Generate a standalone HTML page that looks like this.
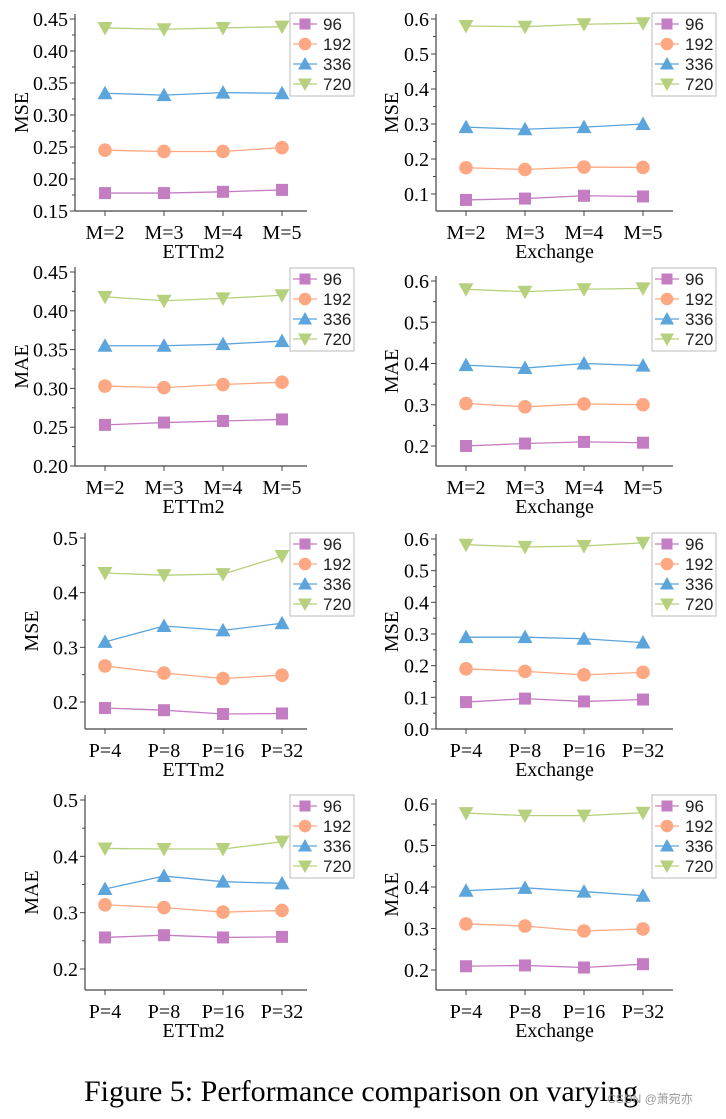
<!DOCTYPE html>
<html><head><meta charset="utf-8"><style>
body{margin:0;background:#fff;width:726px;height:1119px;overflow:hidden}
svg{display:block;font-family:"Liberation Serif",serif}
</style></head><body>
<svg id="fig" width="726" height="1119">
<text x="361" y="1101" font-size="30" text-anchor="middle" fill="#000">Figure 5: Performance comparison on varying</text>
<text x="650" y="1103" font-size="12" text-anchor="middle" fill="#999" font-family="Liberation Sans, Noto Sans CJK SC, sans-serif">CSDN @萧宛亦</text>
</svg>
<script>
const seriesNames=["96","192","336","720"];
const catsM=["M=2","M=3","M=4","M=5"];
const catsP=["P=4","P=8","P=16","P=32"];
const r1l=[[0.178,0.178,0.180,0.183],[0.245,0.243,0.243,0.249],[0.334,0.331,0.335,0.334],[0.436,0.434,0.436,0.438]];
const r1r=[[0.083,0.087,0.095,0.093],[0.175,0.170,0.177,0.176],[0.291,0.285,0.291,0.300],[0.580,0.578,0.585,0.588]];
const r2l=[[0.253,0.256,0.258,0.260],[0.303,0.301,0.305,0.308],[0.355,0.355,0.357,0.361],[0.418,0.413,0.416,0.420]];
const r2r=[[0.200,0.206,0.210,0.208],[0.303,0.295,0.302,0.300],[0.396,0.389,0.400,0.395],[0.580,0.574,0.580,0.582]];
const r3l=[[0.189,0.185,0.178,0.179],[0.266,0.253,0.243,0.249],[0.310,0.339,0.331,0.344],[0.436,0.432,0.434,0.467]];
const r3r=[[0.085,0.096,0.087,0.093],[0.190,0.182,0.171,0.179],[0.290,0.290,0.285,0.273],[0.582,0.575,0.578,0.588]];
const r4l=[[0.256,0.260,0.256,0.257],[0.314,0.309,0.301,0.304],[0.342,0.365,0.355,0.352],[0.414,0.413,0.413,0.426]];
const r4r=[[0.209,0.211,0.206,0.214],[0.311,0.306,0.294,0.299],[0.391,0.398,0.389,0.379],[0.578,0.572,0.572,0.579]];
const ticks1l=[0.15,0.20,0.25,0.30,0.35,0.40,0.45];
const ticksEx6=[0.1,0.2,0.3,0.4,0.5,0.6];
const ticks2l=[0.20,0.25,0.30,0.35,0.40,0.45];
const ticks2r=[0.2,0.3,0.4,0.5,0.6];
const ticks3l=[0.2,0.3,0.4,0.5];
const ticks3r=[0.0,0.1,0.2,0.3,0.4,0.5,0.6];
const colors=["#c47cc2","#fda882","#5ba4dc","#b7d07e"];
const NS="http://www.w3.org/2000/svg";
const svg=document.getElementById('fig');
function mk(t,a,p){const e=document.createElementNS(NS,t);for(const k in a)e.setAttribute(k,a[k]);(p||svg).appendChild(e);return e;}
function marker(g,k,x,y,s){
  const c=colors[k];let e;
  if(k===0)e=mk('rect',{x:x-s,y:y-s,width:2*s,height:2*s,fill:c},g);
  else if(k===1)e=mk('circle',{cx:x,cy:y,r:s+0.8,fill:c},g);
  else if(k===2)e=mk('polygon',{points:`${x},${y-s-1.5} ${x-s-1.5},${y+s} ${x+s+1.5},${y+s}`,fill:c},g);
  else e=mk('polygon',{points:`${x},${y+s+1.5} ${x-s-1.5},${y-s} ${x+s+1.5},${y-s}`,fill:c},g);
  return e;
}
function panel(P){
  const g=mk('g',{});
  
  
  const y=v=>P.yb+(v-P.v0)*(P.yt-P.yb)/(P.v1-P.v0);
  const x=i=>P.cx0+i*P.dx;
  const step=P.ticks[1]-P.ticks[0];
  const ax=mk('line',{x1:P.ax,y1:P.top,x2:P.ax,y2:P.bot,stroke:'#444','stroke-width':1.2},g);
  
  
  const bx=mk('line',{x1:P.ax,y1:P.bot,x2:P.axr,y2:P.bot,stroke:'#444','stroke-width':1.2},g);
  
  
  P.ticks.forEach(t=>{
    const yy=y(t);
    mk('line',{x1:P.ax-5,y1:yy,x2:P.ax,y2:yy,stroke:'#444'},g);
    const m=yy-(y(t)-y(t+step))/2;
    if(m>P.top-1)mk('line',{x1:P.ax-3,y1:m,x2:P.ax,y2:m,stroke:'#444'},g);
    const tl=mk('text',{x:P.ax-7,y:yy+7,'font-size':20,'text-anchor':'end'},g);
    tl.textContent=t.toFixed(P.dec);
    
    
  });
  const mb=y(P.ticks[0])+(y(P.ticks[0])-y(P.ticks[0]+step))/2;
  if(mb<P.bot-1)mk('line',{x1:P.ax-3,y1:mb,x2:P.ax,y2:mb,stroke:'#444'},g);
  P.cats.forEach((c,i)=>{
    mk('line',{x1:x(i),y1:P.bot,x2:x(i),y2:P.bot+5,stroke:'#444'},g);
    const tl=mk('text',{x:x(i),y:P.bot+28,'font-size':20,'text-anchor':'middle'},g);
    tl.textContent=c;
    
    
  });
  const xt=mk('text',{x:(P.cx0+x(3))/2,y:P.bot+47,'font-size':20,'text-anchor':'middle'},g);
  xt.textContent=P.xt;
  
  
  const yc=(P.top+P.bot)/2;
  const yt=mk('text',{x:P.ytx,y:yc,'font-size':20,'text-anchor':'middle',transform:`rotate(-90 ${P.ytx} ${yc})`},g);
  yt.textContent=P.yl;
  
  
  P.data.forEach((s,k)=>{
    const pts=s.map((v,i)=>x(i)+','+y(v)).join(' ');
    const l=mk('polyline',{points:pts,fill:'none',stroke:colors[k],'stroke-width':1.3},g);
    
    
    s.forEach((v,i)=>{
      const m=marker(g,k,x(i),y(v),6);
      
      
    });
  });
  const lg=mk('g',{},g);
  
  
  mk('rect',{x:P.lx,y:P.ly,width:64,height:83,fill:'#fff',stroke:'#bbb'},lg);
  seriesNames.forEach((n,k)=>{
    const yy=P.ly+11+k*20;
    const e=mk('g',{},lg);
    
    
    mk('line',{x1:P.lx+3,y1:yy,x2:P.lx+27,y2:yy,stroke:colors[k],'stroke-width':1.3},e);
    marker(e,k,P.lx+15,yy,5.5);
    const t=mk('text',{x:P.lx+33,y:yy+6,'font-size':17,fill:'#222',
      'font-family':'Liberation Sans, sans-serif'},e);
    t.textContent=n;
  });
}
const L={ax:75,axr:307,cx0:105,dx:59,lx:290,ytx:28};
const R={ax:436,axr:673,cx0:466,dx:59,lx:652,ytx:398};
panel({...L,name:'chart-mse-ettm2-m',cats:catsM,data:r1l,ticks:ticks1l,dec:2,v0:0.15,v1:0.45,yb:211,yt:19,top:14,bot:211,xt:'ETTm2',yl:'MSE',ly:13});
panel({...R,name:'chart-mse-exchange-m',cats:catsM,data:r1r,ticks:ticksEx6,dec:1,v0:0.1,v1:0.6,yb:194,yt:19,top:14,bot:211,xt:'Exchange',yl:'MSE',ly:13});
panel({...L,name:'chart-mae-ettm2-m',cats:catsM,data:r2l,ticks:ticks2l,dec:2,v0:0.20,v1:0.45,yb:466,yt:272,top:267,bot:466,xt:'ETTm2',yl:'MAE',ly:268});
panel({...R,name:'chart-mae-exchange-m',cats:catsM,data:r2r,ticks:ticks2r,dec:1,v0:0.2,v1:0.6,yb:446,yt:281,top:276,bot:466,xt:'Exchange',yl:'MAE',ly:268});
panel({...L,ax:85,ytx:38,name:'chart-mse-ettm2-p',cats:catsP,data:r3l,ticks:ticks3l,dec:1,v0:0.2,v1:0.5,yb:702,yt:538,top:533,bot:729,xt:'ETTm2',yl:'MSE',ly:533});
panel({...R,name:'chart-mse-exchange-p',cats:catsP,data:r3r,ticks:ticks3r,dec:1,v0:0.0,v1:0.6,yb:729,yt:539,top:534,bot:729,xt:'Exchange',yl:'MSE',ly:533});
panel({...L,ax:85,ytx:38,name:'chart-mae-ettm2-p',cats:catsP,data:r4l,ticks:ticks3l,dec:1,v0:0.2,v1:0.5,yb:969,yt:800,top:795,bot:990,xt:'ETTm2',yl:'MAE',ly:795});
panel({...R,name:'chart-mae-exchange-p',cats:catsP,data:r4r,ticks:ticks2r,dec:1,v0:0.2,v1:0.6,yb:970,yt:804,top:799,bot:990,xt:'Exchange',yl:'MAE',ly:795});
</script>
</body></html>
